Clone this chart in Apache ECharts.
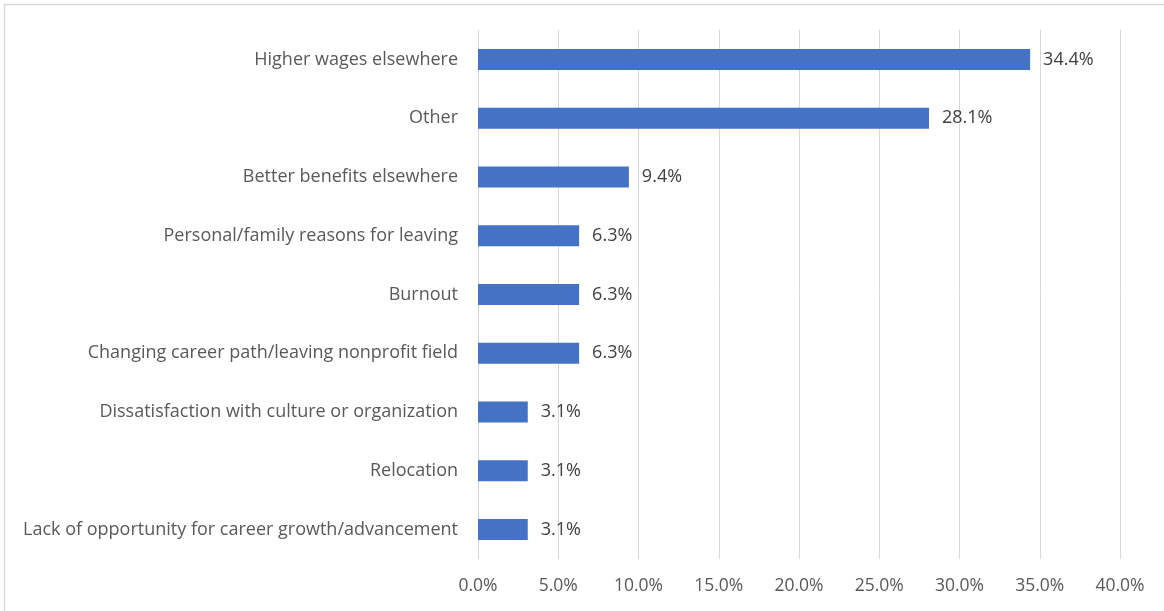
<!DOCTYPE html>
<html>
<head>
<meta charset="utf-8">
<script src="https://cdn.jsdelivr.net/npm/echarts@6/dist/echarts.min.js"></script>
<style>
  html, body { margin: 0; padding: 0; background: #fff; }
  #chart { width: 1164px; height: 611px; }
</style>
</head>
<body>
<div id="chart"></div>
<script>
// Reasons for leaving, listed top to bottom
const reasons = [
  'Higher wages elsewhere',
  'Other',
  'Better benefits elsewhere',
  'Personal/family reasons for leaving',
  'Burnout',
  'Changing career path/leaving nonprofit field',
  'Dissatisfaction with culture or organization',
  'Relocation',
  'Lack of opportunity for career growth/advancement'
];
// Share of respondents, in percent
const shares = [34.4, 28.1, 9.4, 6.3, 6.3, 6.3, 3.1, 3.1, 3.1];
// Value axis range and step, in percent
const axisMin = 0;
const axisMax = 40;
const axisStep = 5;

const FONT = '"Open Sans", Lato, sans-serif';

const chart = echarts.init(document.getElementById('chart'));
chart.setOption({
  backgroundColor: '#ffffff',
  animation: false,
  graphic: [{
    type: 'rect',
    shape: { x: 4.5, y: 4.5, width: 1200, height: 700 },
    style: { fill: 'none', stroke: '#d9d9d9', lineWidth: 1.5 },
    silent: true
  }],
  grid: { left: 478, right: 44, top: 30, bottom: 52, containLabel: false },
  xAxis: {
    type: 'value',
    min: axisMin,
    max: axisMax,
    interval: axisStep,
    axisLine: { show: false },
    axisTick: { show: false },
    splitLine: { show: true, lineStyle: { color: '#d9d9d9', width: 1 } },
    axisLabel: {
      formatter: v => v.toFixed(1) + '%',
      color: '#595959',
      fontFamily: FONT,
      fontSize: 17.5,
      margin: 18
    }
  },
  yAxis: {
    type: 'category',
    data: reasons,
    inverse: true,
    axisLine: { show: false },
    axisTick: { show: false },
    splitLine: { show: false },
    axisLabel: {
      color: '#595959',
      fontFamily: FONT,
      fontSize: 18,
      margin: 20
    }
  },
  series: [{
    type: 'bar',
    data: shares,
    barWidth: 21,
    itemStyle: { color: '#4472c4' },
    label: {
      show: true,
      position: 'right',
      distance: 13,
      formatter: p => p.value.toFixed(1) + '%',
      color: '#404040',
      fontFamily: FONT,
      fontSize: 18
    }
  }]
});
</script>
</body>
</html>
